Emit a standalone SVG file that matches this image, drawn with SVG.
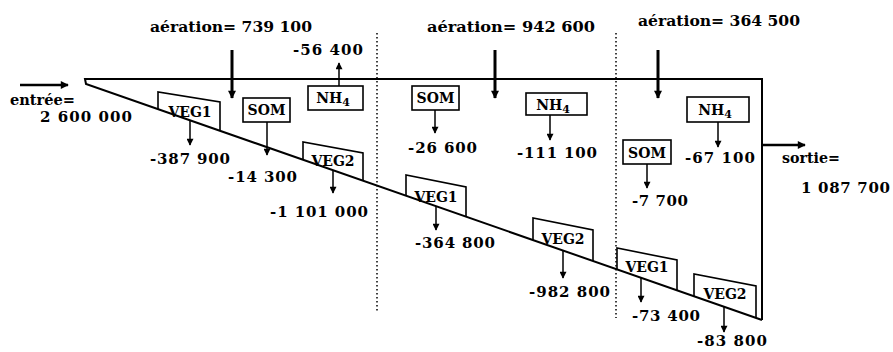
<svg xmlns="http://www.w3.org/2000/svg" width="893" height="352" viewBox="0 0 893 352">
<style>
text{font-family:"DejaVu Serif","Liberation Serif",serif;font-weight:bold;fill:#000}
.lbl{font-size:15px}
.box{font-size:14px;text-anchor:middle}
.shape{fill:none;stroke:#000;stroke-width:1.6}
.main{fill:none;stroke:#000;stroke-width:2}
.dot{stroke:#000;stroke-width:1.5;stroke-dasharray:1.5 2.5}
.arr{stroke:#000;stroke-width:1.5;marker-end:url(#ah)}
.io{stroke:#000;stroke-width:2.6;marker-end:url(#ahb)}
.big{stroke:#000;stroke-width:3;marker-end:url(#ahb)}
</style>
<defs>
<marker id="ah" viewBox="0 0 10 10" refX="9" refY="5" markerWidth="10" markerHeight="7" markerUnits="userSpaceOnUse" orient="auto"><path d="M0,0 L10,5 L0,10 z" fill="#000"/></marker>
<marker id="ahb" viewBox="0 0 10 10" refX="9" refY="5" markerWidth="11" markerHeight="8" markerUnits="userSpaceOnUse" orient="auto"><path d="M0,0 L10,5 L0,10 z" fill="#000"/></marker>
</defs>
<rect width="893" height="352" fill="#fff"/>

<g id="bassin">
<path class="main" d="M762 320 L762 79 L85 79 L86 84 L762 320"/>
<line class="dot" x1="377" y1="33" x2="377" y2="313"/>
<line class="dot" x1="616" y1="33" x2="616" y2="318"/>
</g>

<g id="entree">
<text class="lbl" x="10" y="105" textLength="65" lengthAdjust="spacingAndGlyphs">entrée=</text>
<text class="lbl" x="40" y="122" textLength="92" lengthAdjust="spacing">2 600 000</text>
</g>
<g id="sortie">
<text class="lbl" x="782" y="163" textLength="58" lengthAdjust="spacingAndGlyphs">sortie=</text>
<text class="lbl" x="801" y="193" textLength="89" lengthAdjust="spacing">1 087 700</text>
</g>

<g id="aeration1"><text class="lbl" x="150" y="32" textLength="162" lengthAdjust="spacingAndGlyphs">aération= 739 100</text></g>
<g id="aeration2"><text class="lbl" x="427" y="32" textLength="168" lengthAdjust="spacingAndGlyphs">aération=  942 600</text></g>
<g id="aeration3"><text class="lbl" x="638" y="26" textLength="162" lengthAdjust="spacingAndGlyphs">aération= 364 500</text></g>

<g id="veg1a">
<polyline class="shape" points="158,109 158,92 220,102 220,131"/>
<text class="box" x="190" y="117">VEG1</text>
<text class="lbl" x="150" y="164" textLength="80" lengthAdjust="spacing">-387 900</text>
</g>
<g id="som1">
<rect class="shape" x="243" y="98" width="47" height="24"/>
<text class="box" x="266.5" y="115">SOM</text>
<text class="lbl" x="228" y="182" textLength="69" lengthAdjust="spacing">-14 300</text>
</g>
<g id="veg2a">
<polyline class="shape" points="303,160 303,142 363,153 363,180"/>
<text class="box" x="333" y="166">VEG2</text>
<text class="lbl" x="270" y="217" textLength="98" lengthAdjust="spacing">-1 101 000</text>
</g>
<g id="nh4a">
<rect class="shape" x="308" y="86" width="55" height="24"/>
<text class="box" x="333" y="103">NH<tspan font-size="11" dy="3">4</tspan></text>
<text class="lbl" x="293" y="55" textLength="70" lengthAdjust="spacing">-56 400</text>
</g>

<g id="som2">
<rect class="shape" x="412" y="86" width="47" height="24"/>
<text class="box" x="435.5" y="103">SOM</text>
<text class="lbl" x="408" y="153" textLength="69" lengthAdjust="spacing">-26 600</text>
</g>
<g id="nh4b">
<rect class="shape" x="526" y="93" width="61" height="22"/>
<text class="box" x="553" y="110">NH<tspan font-size="11" dy="3">4</tspan></text>
<text class="lbl" x="517" y="158" textLength="80" lengthAdjust="spacing">-111 100</text>
</g>
<g id="veg1b">
<polyline class="shape" points="406,195 406,175 466,187 466,216"/>
<text class="box" x="436" y="202">VEG1</text>
<text class="lbl" x="415" y="248" textLength="80" lengthAdjust="spacing">-364 800</text>
</g>
<g id="veg2b">
<polyline class="shape" points="533,240 533,218 593,230 593,261"/>
<text class="box" x="563" y="244">VEG2</text>
<text class="lbl" x="529" y="297" textLength="81" lengthAdjust="spacing">-982 800</text>
</g>

<g id="nh4c">
<rect class="shape" x="687" y="97" width="62" height="25"/>
<text class="box" x="715" y="115">NH<tspan font-size="11" dy="3">4</tspan></text>
<text class="lbl" x="685" y="163" textLength="70" lengthAdjust="spacing">-67 100</text>
</g>
<g id="som3">
<rect class="shape" x="623" y="140" width="48" height="24"/>
<text class="box" x="647" y="158">SOM</text>
<text class="lbl" x="632" y="206" textLength="56" lengthAdjust="spacing">-7 700</text>
</g>
<g id="veg1c">
<polyline class="shape" points="617,269 617,248 677,260 677,290"/>
<text class="box" x="647" y="272">VEG1</text>
<text class="lbl" x="632" y="321" textLength="68" lengthAdjust="spacing">-73 400</text>
</g>
<g id="veg2c">
<polyline class="shape" points="694,296 694,274 756,286 756,317"/>
<text class="box" x="725" y="299">VEG2</text>
<text class="lbl" x="697" y="346" textLength="70" lengthAdjust="spacing">-83 800</text>
</g>

<g id="connectors">
<line class="io" x1="20" y1="85" x2="68" y2="85"/>
<line class="io" x1="762" y1="145" x2="805" y2="145"/>
<line class="big" x1="232" y1="50" x2="232" y2="98"/>
<line class="big" x1="495" y1="50" x2="495" y2="98"/>
<line class="big" x1="658" y1="50" x2="658" y2="98"/>
<line class="arr" x1="190" y1="120" x2="190" y2="145"/>
<line class="arr" x1="267" y1="122" x2="267" y2="155"/>
<line class="arr" x1="333" y1="171" x2="333" y2="193"/>
<line class="arr" x1="339" y1="86" x2="339" y2="63"/>
<line class="arr" x1="435" y1="110" x2="435" y2="133"/>
<line class="arr" x1="550" y1="115" x2="550" y2="140"/>
<line class="arr" x1="436" y1="206" x2="436" y2="230"/>
<line class="arr" x1="563" y1="250" x2="563" y2="278"/>
<line class="arr" x1="718" y1="122" x2="718" y2="147"/>
<line class="arr" x1="647" y1="164" x2="647" y2="188"/>
<line class="arr" x1="641" y1="277" x2="641" y2="302"/>
<line class="arr" x1="724" y1="306" x2="724" y2="332"/>
</g>
</svg>
